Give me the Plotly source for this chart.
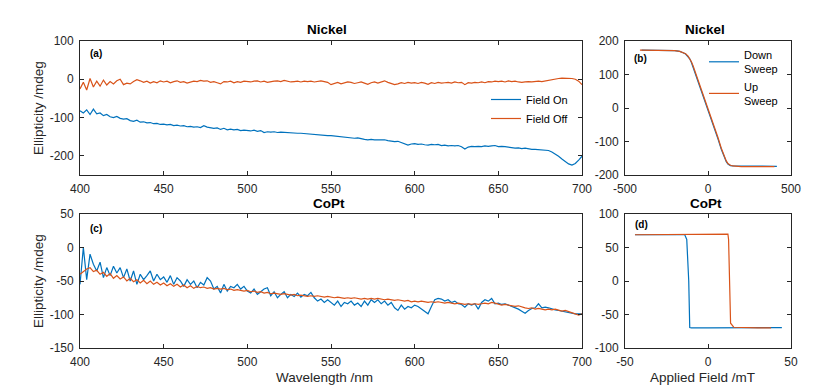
import plotly.graph_objects as go

BLUE = "#0072BD"
ORANGE = "#D95319"
INK = "#262626"
FONT = "Liberation Sans, Arial, sans-serif"

# ---------- spectra (2 nm steps) ----------
wavelength = list(range(400, 701, 2))

ni_field_on = [
    -82, -88, -80, -92, -78, -90, -88, -95, -92, -98, -100, -97, -102, -104, -103,
    -108, -110, -107, -112, -111, -114, -113, -116, -115, -118, -117, -119, -118, -121, -120,
    -122, -121, -124, -123, -125, -124, -126, -121, -125, -127, -128, -127, -131, -128, -132,
    -130, -132, -131, -134, -133, -134, -135, -133, -136, -134, -139, -137, -138, -137, -139,
    -138, -139, -139, -140, -140, -141, -141, -142, -143, -143, -144, -145, -146, -146, -147,
    -147, -148, -149, -150, -151, -152, -152, -154, -153, -156, -157, -158, -157, -158, -158,
    -158, -158, -160, -161, -163, -162, -165, -168, -172, -169, -168, -170, -169, -171, -172,
    -170, -171, -170, -173, -172, -174, -173, -174, -173, -176, -182, -177, -175, -176, -175,
    -176, -174, -175, -174, -173, -176, -175, -176, -177, -178, -180, -179, -181, -180, -182,
    -183, -183, -184, -185, -185, -186, -190, -195, -201, -208, -215, -221, -224, -220, -211,
    -201,
]

ni_field_off = [
    -25, -8, -28, 2, -20, -5, -18, -2, -15, -6, -12, -4, 0, -14, -10,
    -12, -6, -1, -4, -8, -5, -10, -6, -9, -4, -7, -5, -9, -6, -4,
    -8, -6, -10, -7, -5, -6, -3, -5, -4, -8, -6, -9, -12, -6, -7,
    -5, -9, -6, -8, -5, -6, -7, -5, -4, -7, -5, -8, -6, -5, -4,
    -6, -3, -5, -7, -6, -5, -7, -5, -6, -5, -7, -5, -4, -6, -8,
    -14, -10, -8, -12, -9, -7, -8, -11, -9, -7, -10, -13, -9, -7, -10,
    -6, -4, -8, -11, -14, -12, -9, -11, -8, -10, -9, -11, -8, -10, -13,
    -9, -11, -8, -10, -9, -8, -10, -7, -9, -8, -14, -9, -10, -8, -9,
    -7, -9, -6, -7, -5, -6, -5, -7, -4, -6, -5, -7, -8, -7, -6,
    -7, -6, -5, -6, -4, -2, 0, 1, 2, 3, 3, 2, 2, 0, -5,
    -14,
]

copt_field_on = [
    -55, 0, -48, -10, -25, -35, -22, -45, -30, -42, -28, -38, -30, -45, -32,
    -50, -35, -55, -40, -48, -42, -35, -50, -40, -48, -44, -52, -42, -55, -45,
    -50, -58, -48, -55, -50, -60, -52, -56, -45, -50, -62, -58, -68, -55, -65,
    -58, -60, -55, -62, -58, -65, -68, -62, -70, -66, -62, -60, -72, -66, -75,
    -70, -66, -75, -70, -73, -68, -74, -70, -72, -67, -75, -80, -77, -82, -78,
    -82, -86, -80, -88, -82, -84, -80, -86, -83, -88, -80, -86, -78, -82, -78,
    -84, -80, -86, -82, -90, -94, -86, -92, -88, -90, -86, -88, -92, -95, -99,
    -88, -78, -76, -77, -80, -78, -82, -80, -84, -85, -89, -84, -86, -84, -92,
    -82, -78, -80, -76, -84, -83, -85, -84, -86, -87, -89, -92, -95, -98, -94,
    -91, -90, -84, -90, -89, -90, -92, -93, -94, -95, -97, -98, -99, -99, -99,
    -99,
]

copt_field_off = [
    -40, -36, -32, -30, -36, -34, -40, -37, -43, -39, -46, -42, -47, -44, -50,
    -46, -51, -48, -53, -49, -54, -50, -55, -52, -56, -53, -57, -54, -58, -55,
    -59, -56, -60, -57, -61, -58, -60, -59, -61, -60, -62, -61, -62, -61, -63,
    -62, -64, -63, -64, -65, -64, -66, -65, -67, -66, -68, -67, -69, -68, -69,
    -70, -69, -70, -71, -70, -72, -71, -72, -73, -72, -73, -72, -73, -74, -73,
    -74, -75, -74, -75, -76, -75, -76, -75, -76, -77, -76, -77, -76, -77, -76,
    -77, -78, -77, -78, -79, -78, -79, -80, -79, -81, -80, -81, -80, -81, -82,
    -81, -82, -81, -82, -83, -82, -83, -84, -83, -84, -85, -84, -85, -84, -85,
    -84, -83, -84, -82, -83, -84, -86, -85, -86, -87, -88, -87, -89, -90, -91,
    -90, -92, -91, -92, -93, -92, -93, -92, -94, -95, -94, -96, -97, -99, -101,
    -99,
]

# ---------- hysteresis loops ----------
ni_up_field = [-410, -350, -300, -250, -200, -170, -150, -135, -120, -110, -100, -90, -80,
               -60, -40, -20, 0, 20, 40, 60, 80, 90, 100, 110, 120, 135, 150, 170, 200,
               250, 300, 350, 400]
ni_up = [173, 173, 173, 172, 171, 169, 166, 162, 155, 148, 138, 126, 112,
         86, 58, 30, 2, -28, -58, -88, -120, -133, -147, -158, -166, -171, -173, -174, -175,
         -175, -175, -175, -175]

ni_down_field = [415, 350, 300, 250, 200, 170, 150, 135, 120, 110, 100, 90, 80,
                 60, 40, 20, 0, -20, -40, -60, -80, -90, -100, -110, -120, -135, -150, -170,
                 -200, -250, -300, -350, -400]
ni_down = [-174, -174, -175, -175, -175, -174, -173, -172, -167, -160, -149, -136, -123,
           -92, -63, -36, -7, 24, 54, 83, 110, 124, 136, 147, 154, 161, 165, 169,
           171, 172, 173, 173, 173]

copt_up_field = [-44, -30, -20, -10, 0, 10, 12, 12.4, 13, 13.6, 15.5, 20, 30, 38]
copt_up = [69, 69, 69.5, 69.5, 70, 70, 70, 62, 0, -63, -69, -69.5, -70, -70]

copt_down_field = [44.5, 30, 20, 10, 0, -10, -11, -11.6, -12.3, -12.8, -14, -20, -30, -44]
copt_down = [-69.5, -70, -70, -70, -70, -70, -69.5, 0, 55, 62, 69, 69, 69, 69]

# tick labels (MATLAB style hyphen minus)
wl_ticks = [400, 450, 500, 550, 600, 650, 700]
ni_spec_ticks = [100, 0, -100, -200]
ni_field_ticks = [-500, 0, 500]
ni_loop_ticks = [200, 100, 0, -100, -200]
copt_spec_ticks = [50, 0, -50, -100, -150]
copt_field_ticks = [-50, 0, 50]
copt_loop_ticks = [100, 50, 0, -50, -100]

# page body adds an 8 px margin, so the figure is drawn 8 px in from the window corner
OFF = 8
W, H = 830 - OFF, 389 - OFF


def px_x(p):
    return (p - OFF) / W


def px_y(p):
    return 1 - (p - OFF) / H


fig = go.Figure()

fig.add_trace(go.Scatter(x=wavelength, y=ni_field_on, name="Field On", mode="lines",
                         line=dict(color=BLUE, width=1.2), xaxis="x", yaxis="y", legend="legend"))
fig.add_trace(go.Scatter(x=wavelength, y=ni_field_off, name="Field Off", mode="lines",
                         line=dict(color=ORANGE, width=1.2), xaxis="x", yaxis="y", legend="legend"))

fig.add_trace(go.Scatter(x=ni_down_field, y=ni_down, name="Down<br>Sweep", mode="lines",
                         line=dict(color=BLUE, width=1.2), xaxis="x2", yaxis="y2", legend="legend2"))
fig.add_trace(go.Scatter(x=ni_up_field, y=ni_up, name="Up<br>Sweep", mode="lines",
                         line=dict(color=ORANGE, width=1.2), xaxis="x2", yaxis="y2", legend="legend2"))

fig.add_trace(go.Scatter(x=wavelength, y=copt_field_on, mode="lines", showlegend=False,
                         line=dict(color=BLUE, width=1.2), xaxis="x3", yaxis="y3"))
fig.add_trace(go.Scatter(x=wavelength, y=copt_field_off, mode="lines", showlegend=False,
                         line=dict(color=ORANGE, width=1.2), xaxis="x3", yaxis="y3"))

fig.add_trace(go.Scatter(x=copt_down_field, y=copt_down, mode="lines", showlegend=False,
                         line=dict(color=BLUE, width=1.2), xaxis="x4", yaxis="y4"))
fig.add_trace(go.Scatter(x=copt_up_field, y=copt_up, mode="lines", showlegend=False,
                         line=dict(color=ORANGE, width=1.2), xaxis="x4", yaxis="y4"))

axis_style = dict(showline=True, linecolor=INK, linewidth=0.8, mirror="ticks",
                  ticks="inside", ticklen=4, tickcolor=INK, tickwidth=0.8,
                  showgrid=False, zeroline=False, automargin=False, ticklabelstandoff=3,
                  tickfont=dict(family=FONT, size=12, color=INK))


def ticks(vals):
    return dict(tickmode="array", tickvals=vals, ticktext=[str(v) for v in vals])


left_dom = [px_x(80), px_x(582)]
right_dom = [px_x(625), px_x(791)]
top_dom = [px_y(175), px_y(41)]
bot_dom = [px_y(348), px_y(214)]

fig.update_layout(
    width=W, height=H,
    margin=dict(l=0, r=0, t=0, b=0),
    paper_bgcolor="white", plot_bgcolor="white",
    font=dict(family=FONT, color=INK),
    xaxis=dict(domain=left_dom, range=[400, 700], anchor="y", **ticks(wl_ticks), **axis_style),
    yaxis=dict(domain=top_dom, range=[-250, 100], anchor="x", **ticks(ni_spec_ticks), **axis_style),
    xaxis2=dict(domain=right_dom, range=[-500, 500], anchor="y2", **ticks(ni_field_ticks), **axis_style),
    yaxis2=dict(domain=top_dom, range=[-200, 200], anchor="x2", **ticks(ni_loop_ticks), **axis_style),
    xaxis3=dict(domain=left_dom, range=[400, 700], anchor="y3", **ticks(wl_ticks), **axis_style),
    yaxis3=dict(domain=bot_dom, range=[-150, 50], anchor="x3", **ticks(copt_spec_ticks), **axis_style),
    xaxis4=dict(domain=right_dom, range=[-50, 50], anchor="y4", **ticks(copt_field_ticks), **axis_style),
    yaxis4=dict(domain=bot_dom, range=[-100, 100], anchor="x4", **ticks(copt_loop_ticks), **axis_style),
    legend=dict(x=px_x(486), y=px_y(85), xanchor="left", yanchor="top",
                bgcolor="rgba(0,0,0,0)", font=dict(family=FONT, size=11, color="black"),
                itemwidth=30, tracegroupgap=0),
    legend2=dict(x=px_x(704), y=px_y(41), xanchor="left", yanchor="top",
                 bgcolor="rgba(0,0,0,0)", font=dict(family=FONT, size=11, color="black"),
                 itemwidth=30, tracegroupgap=0),
)

notes = [
    ("<b>Nickel</b>", 327, 30, 13.5, 0),
    ("<b>CoPt</b>", 329, 203, 13.5, 0),
    ("<b>Nickel</b>", 705, 30, 13.5, 0),
    ("<b>CoPt</b>", 706, 203, 13.5, 0),
    ("Wavelength /nm", 324, 377, 13.5, 0),
    ("Applied Field /mT", 702, 377, 13.5, 0),
    ("Ellipticity /mdeg", 38, 108, 13.5, -90),
    ("Ellipticity /mdeg", 38, 281, 13.5, -90),
]
for text, x, y, size, angle in notes:
    fig.add_annotation(text=text, x=px_x(x), y=px_y(y), xref="paper", yref="paper",
                       xanchor="center", yanchor="middle", showarrow=False, textangle=angle,
                       font=dict(family=FONT, size=size, color="black" if "<b>" in text else INK))

for text, x, y in [("(a)", 88, 53), ("(b)", 632, 58), ("(c)", 88, 228), ("(d)", 633, 224)]:
    fig.add_annotation(text="<b>" + text + "</b>", x=px_x(x), y=px_y(y), xref="paper", yref="paper",
                       xanchor="left", yanchor="middle", showarrow=False,
                       font=dict(family=FONT, size=10, color="black"))

fig.write_html("out.html")
